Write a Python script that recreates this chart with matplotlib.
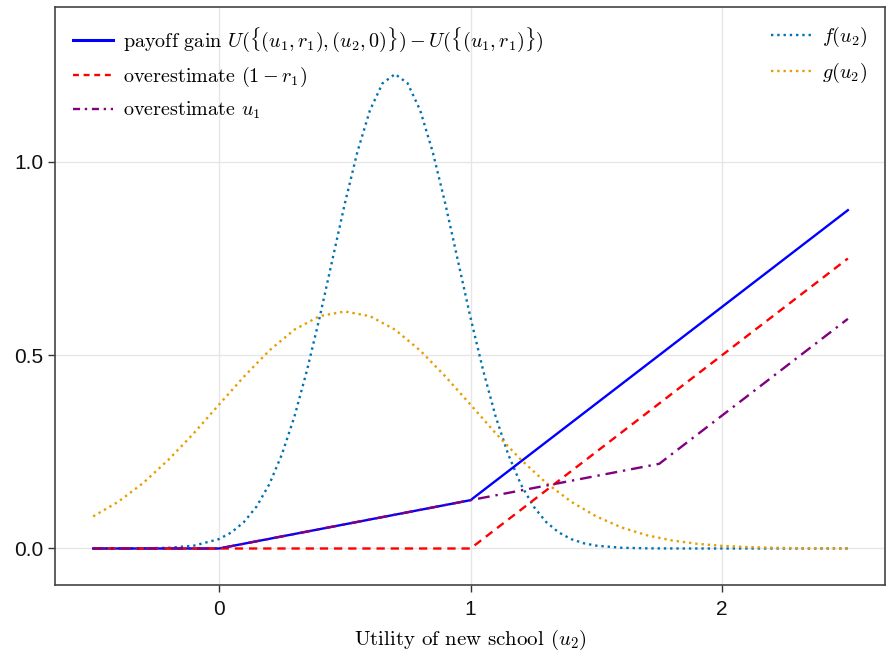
import numpy as np
import matplotlib.pyplot as plt
from matplotlib.lines import Line2D

plt.rcParams['mathtext.fontset'] = 'cm'
plt.rcParams['axes.unicode_minus'] = False

# piecewise-linear curves (knots)
gain_x = [-0.5, 0.0, 1.0, 2.5]
gain_y = [0.0, 0.0, 0.125, 0.875]
over_r_x = [-0.5, 1.0, 2.5]
over_r_y = [0.0, 0.0, 0.75]
over_u_x = [-0.5, 0.0, 1.0, 1.75, 2.5]
over_u_y = [0.0, 0.0, 0.125, 0.219, 0.594]

# density f, finer steps around the peak
f_x = [-0.5, -0.4, -0.3, -0.2, -0.1, 0.0, 0.05, 0.1, 0.15, 0.2, 0.25, 0.3, 0.35,
       0.4, 0.45, 0.5, 0.55, 0.6, 0.65, 0.7, 0.75, 0.8, 0.85, 0.9, 0.95, 1.0,
       1.05, 1.1, 1.15, 1.2, 1.25, 1.3, 1.35, 1.4, 1.45, 1.5, 1.6, 1.7, 1.8,
       1.9, 2.0, 2.1, 2.2, 2.3, 2.4, 2.5]
f_y = [0.0, 0.0001, 0.0004, 0.0019, 0.0073, 0.0243, 0.0418, 0.0689, 0.109, 0.166,
       0.243, 0.341, 0.461, 0.597, 0.744, 0.891, 1.025, 1.133, 1.203, 1.227, 1.203,
       1.133, 1.025, 0.891, 0.744, 0.597, 0.461, 0.341, 0.243, 0.166, 0.109, 0.0689,
       0.0418, 0.0243, 0.0136, 0.0073, 0.0019, 0.0004, 0.0001, 0.0, 0.0, 0.0, 0.0,
       0.0, 0.0, 0.0]

# density g, read at steps of 0.1
g_x = [-0.5, -0.4, -0.3, -0.2, -0.1, 0.0, 0.1, 0.2, 0.3, 0.4, 0.5,
       0.6, 0.7, 0.8, 0.9, 1.0, 1.1, 1.2, 1.3, 1.4, 1.5,
       1.6, 1.7, 1.8, 1.9, 2.0, 2.1, 2.2, 2.3, 2.4, 2.5]
g_y = [0.083, 0.121, 0.170, 0.230, 0.298, 0.372, 0.445, 0.512, 0.566, 0.601, 0.613,
       0.601, 0.566, 0.512, 0.445, 0.372, 0.298, 0.230, 0.170, 0.121, 0.083,
       0.0545, 0.0344, 0.0209, 0.0122, 0.0068, 0.0037, 0.0019, 0.0009, 0.0004, 0.0002]

fig = plt.figure(figsize=(8.86, 6.52), dpi=100)
ax = fig.add_axes([0.062, 0.103, 0.937, 0.886])

lw = 1.7
ax.plot(f_x, f_y, ls=':', color='#0072B2', lw=lw)
ax.plot(g_x, g_y, ls=':', color='#E69F00', lw=lw)
ax.plot(gain_x, gain_y, color='blue', lw=lw)
ax.plot(over_r_x, over_r_y, ls=(0, (3.5, 2.5)), color='red', lw=lw)
ax.plot(over_u_x, over_u_y, ls=(0, (5, 2.5, 1, 2.5)), color='purple', lw=lw)

ax.set_xlim(-0.652, 2.648)
ax.set_ylim(-0.094, 1.40)
ax.set_xticks([0, 1, 2])
ax.set_xticklabels(['0', '1', '2'])
ax.set_yticks([0.0, 0.5, 1.0])
ax.set_yticklabels(['0.0', '0.5', '1.0'])
ax.tick_params(labelsize=15, length=5, width=1, colors='#333333', labelcolor='#111111')
ax.tick_params(axis='x', pad=6)
for lab in ax.get_xticklabels() + ax.get_yticklabels():
    lab.set_family('Liberation Sans')
ax.grid(True, color='#e6e6e6', lw=1)
ax.set_axisbelow(True)
for s in ax.spines.values():
    s.set_color('#444444')
    s.set_linewidth(1.2)

ax.set_xlabel(r'Utility of new school $(u_2)$', family='cmr10', fontsize=15, labelpad=6)

h1 = [Line2D([], [], color='blue', lw=2.2),
      Line2D([], [], color='red', lw=lw, ls=(0, (2.5, 2))),
      Line2D([], [], color='purple', lw=lw, ls=(0, (3, 2, 1, 2)))]
l1 = [r'payoff gain $U(\{(u_1,r_1),(u_2,0)\}) - U(\{(u_1,r_1)\})$',
      r'overestimate $(1-r_1)$',
      r'overestimate $u_1$']
leg1 = ax.legend(h1, l1, loc='upper left', frameon=False,
                 prop={'family': 'cmr10', 'size': 14.5},
                 handlelength=2.0, handletextpad=0.5, labelspacing=0.55,
                 borderaxespad=0.5, bbox_to_anchor=(0.0, 1.0))
ax.add_artist(leg1)

h2 = [Line2D([], [], color='#0072B2', lw=lw, ls=':'),
      Line2D([], [], color='#E69F00', lw=lw, ls=':')]
l2 = [r'$f(u_2)$', r'$g(u_2)$']
ax.legend(h2, l2, loc='upper right', frameon=False,
          prop={'family': 'cmr10', 'size': 14.5},
          handlelength=2.0, handletextpad=0.5, labelspacing=0.55,
          borderaxespad=0.5)

fig.savefig('out.png', dpi=100)
